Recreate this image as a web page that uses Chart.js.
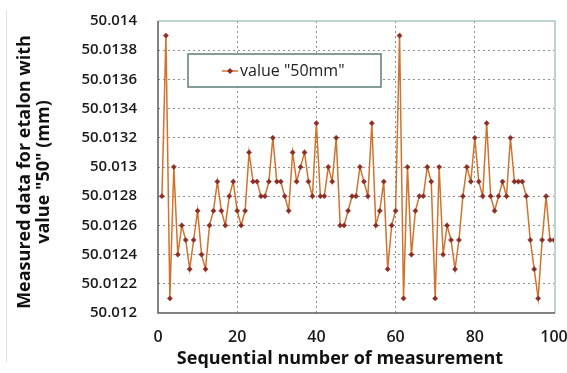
<!DOCTYPE html>
<html>
<head>
<meta charset="utf-8">
<script src="https://cdn.jsdelivr.net/npm/chart.js@4.4.0/dist/chart.umd.min.js"></script>
<style>
  html, body { margin: 0; padding: 0; background: #fff; }
</style>
</head>
<body>
<canvas id="etalonChart" width="567" height="373"></canvas>
<script>
'use strict'

// sequential number of each measurement
const seqNumbers = [
  1, 2, 3, 4, 5, 6, 7, 8, 9, 10,
  11, 12, 13, 14, 15, 16, 17, 18, 19, 20,
  21, 22, 23, 24, 25, 26, 27, 28, 29, 30,
  31, 32, 33, 34, 35, 36, 37, 38, 39, 40,
  41, 42, 43, 44, 45, 46, 47, 48, 49, 50,
  51, 52, 53, 54, 55, 56, 57, 58, 59, 60,
  61, 62, 63, 64, 65, 66, 67, 68, 69, 70,
  71, 72, 73, 74, 75, 76, 77, 78, 79, 80,
  81, 82, 83, 84, 85, 86, 87, 88, 89, 90,
  91, 92, 93, 94, 95, 96, 97, 98, 99, 100
];

const measured50 = [
  50.0128, 50.0139, 50.0121, 50.0130, 50.0124, 50.0126, 50.0125, 50.0123, 50.0125, 50.0127,
  50.0124, 50.0123, 50.0126, 50.0127, 50.0129, 50.0127, 50.0126, 50.0128, 50.0129, 50.0127,
  50.0126, 50.0127, 50.0131, 50.0129, 50.0129, 50.0128, 50.0128, 50.0129, 50.0132, 50.0129,
  50.0129, 50.0128, 50.0127, 50.0131, 50.0129, 50.0130, 50.0131, 50.0129, 50.0128, 50.0133,
  50.0128, 50.0128, 50.0130, 50.0129, 50.0132, 50.0126, 50.0126, 50.0127, 50.0128, 50.0128,
  50.0130, 50.0129, 50.0128, 50.0133, 50.0126, 50.0127, 50.0129, 50.0123, 50.0126, 50.0127,
  50.0139, 50.0121, 50.0130, 50.0124, 50.0127, 50.0128, 50.0128, 50.0130, 50.0129, 50.0121,
  50.0130, 50.0124, 50.0126, 50.0125, 50.0123, 50.0125, 50.0128, 50.0130, 50.0129, 50.0132,
  50.0129, 50.0128, 50.0133, 50.0128, 50.0127, 50.0128, 50.0129, 50.0128, 50.0132, 50.0129,
  50.0129, 50.0129, 50.0128, 50.0125, 50.0123, 50.0121, 50.0125, 50.0128, 50.0125, 50.0125
];

const xTickValues = [0, 20, 40, 60, 80, 100];
const yTickValues = [50.012, 50.0122, 50.0124, 50.0126, 50.0128, 50.013,
                     50.0132, 50.0134, 50.0136, 50.0138, 50.014];

const seriesLabel = 'value "50mm"';
const xTitle = 'Sequential number of measurement';
const yTitle = ['Measured data for etalon with', 'value "50" (mm)'];

const FONT = "'Open Sans', 'DejaVu Sans', sans-serif";
const LINE_COLOR = '#d0732f';
const MARK_COLOR = '#8c2e25';
const GRID_COLOR = '#8f8f8f';

/* legend box, axis titles, plot frame */
const frameAndLegend = {
  id: 'frameAndLegend',
  beforeDatasetsDraw(chart) {
    const ctx = chart.ctx;
    ctx.save();
    // legend box sits over the grid
    ctx.fillStyle = '#fff';
    ctx.fillRect(188, 54, 193, 33);
    ctx.strokeStyle = '#5d7c78';
    ctx.lineWidth = 1.5;
    ctx.strokeRect(188, 54, 193, 33);
    ctx.strokeStyle = LINE_COLOR;
    ctx.lineWidth = 1.5;
    ctx.beginPath();
    ctx.moveTo(222, 71);
    ctx.lineTo(238, 71);
    ctx.stroke();
    ctx.fillStyle = MARK_COLOR;
    ctx.beginPath();
    ctx.moveTo(230, 68); ctx.lineTo(233, 71); ctx.lineTo(230, 74); ctx.lineTo(227, 71);
    ctx.closePath();
    ctx.fill();
    ctx.fillStyle = '#222';
    ctx.font = '16px ' + FONT;
    ctx.textBaseline = 'middle';
    ctx.fillText(chart.data.datasets[0].label, 240, 71);

    // axis titles
    ctx.fillStyle = '#111';
    ctx.font = 'bold 18px ' + FONT;
    ctx.textAlign = 'center';
    ctx.fillText(xTitle, 340, 359);
    ctx.save();
    ctx.translate(25, 172);
    ctx.rotate(-Math.PI / 2);
    ctx.fillText(yTitle[0], 0, 0);
    ctx.fillText(yTitle[1], 0, 19);
    ctx.restore();
    ctx.restore();
  },
  afterDatasetsDraw(chart) {
    const {ctx, chartArea: a} = chart;
    ctx.save();
    ctx.lineWidth = 1.5;
    ctx.strokeStyle = '#a8c8c2';
    ctx.beginPath();
    ctx.moveTo(a.left, a.top);
    ctx.lineTo(a.right + 1, a.top);
    ctx.lineTo(a.right + 1, a.bottom);
    ctx.stroke();
    ctx.strokeStyle = '#5a5a5a';
    ctx.beginPath();
    ctx.moveTo(a.left, a.top);
    ctx.lineTo(a.left, a.bottom);
    ctx.lineTo(a.right + 1, a.bottom);
    ctx.stroke();
    // faint page edge on the left
    ctx.strokeStyle = '#e0e0e0';
    ctx.lineWidth = 1;
    ctx.beginPath();
    ctx.moveTo(6.5, 10);
    ctx.lineTo(6.5, 362);
    ctx.stroke();
    ctx.restore();
  }
};

const points = seqNumbers.map((n, i) => ({x: n, y: measured50[i]}));

const config = {
  type: 'line',
  data: {
    datasets: [{
      label: seriesLabel,
      data: points,
      borderColor: LINE_COLOR,
      borderWidth: 1.5,
      tension: 0,
      pointStyle: 'rectRot',
      pointRadius: 2.6,
      pointBackgroundColor: MARK_COLOR,
      pointBorderColor: MARK_COLOR,
      pointBorderWidth: 0.5
    }]
  },
  options: {
    responsive: false,
    animation: false,
    devicePixelRatio: 1,
    layout: { padding: { top: 21, right: 13, bottom: 0, left: 0 } },
    plugins: {
      legend: { display: false },
      tooltip: { enabled: false }
    },
    scales: {
      x: {
        type: 'linear',
        min: 0,
        max: 100,
        afterBuildTicks: (s) => { s.ticks = xTickValues.map(v => ({value: v})); },
        afterFit: (s) => { s.height = 60; s.paddingLeft = 0; s.paddingRight = 0; },
        ticks: {
          padding: 15,
          maxRotation: 0,
          autoSkip: false,
          color: '#1a1a1a',
          font: { family: FONT, size: 16, weight: '600' }
        },
        grid: {
          drawTicks: false,
          lineWidth: 1,
          color: (c) => (c.tick && (c.tick.value === 0 || c.tick.value === 100)) ? 'rgba(0,0,0,0)' : GRID_COLOR
        },
        border: { display: false, dash: [2, 3] }
      },
      y: {
        min: 50.012,
        max: 50.014,
        afterBuildTicks: (s) => { s.ticks = yTickValues.map(v => ({value: v})); },
        afterFit: (s) => { s.width = 158; s.paddingTop = 0; s.paddingBottom = 0; },
        ticks: {
          padding: 21,
          autoSkip: false,
          color: '#1a1a1a',
          font: { family: FONT, size: 15, weight: '600' },
          callback: (v) => v.toFixed(4).replace(/0+$/, '')
        },
        grid: {
          drawTicks: false,
          lineWidth: 1,
          color: (c) => (c.tick && (c.index === 0 || c.index === yTickValues.length - 1)) ? 'rgba(0,0,0,0)' : GRID_COLOR
        },
        border: { display: false, dash: [2, 3] }
      }
    }
  },
  plugins: [frameAndLegend]
};

const chart = new Chart(document.getElementById('etalonChart').getContext('2d'), config);
</script>
</body>
</html>
